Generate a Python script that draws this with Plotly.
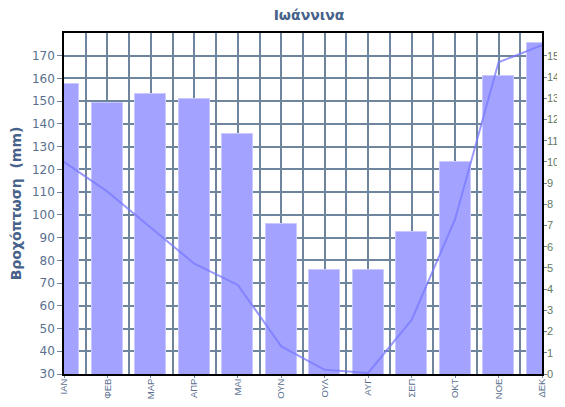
import plotly.graph_objects as go

months = ["ΙΑΝ", "ΦΕΒ", "ΜΑΡ", "ΑΠΡ", "ΜΑΙ", "ΟΥΝ", "ΟΥΛ", "ΑΥΓ", "ΣΕΠ", "ΟΚΤ", "ΝΟΕ", "ΔΕΚ"]
rainfall_mm = [157.4, 149.1, 153.0, 151.0, 135.4, 95.9, 75.8, 75.8, 92.6, 123.1, 161.2, 175.5]
line_values = [10.0, 8.6, 6.9, 5.2, 4.2, 1.3, 0.2, 0.05, 2.55, 7.3, 14.7, 15.5]
left_ticks = list(range(30, 171, 10))
right_ticks = list(range(0, 16))

pos = list(range(len(months)))
half_pos = [i + 0.5 for i in range(len(months) - 1)]

GRID = "#6f849d"
LBL = "#5a6f8f"
TITLE = "#46618a"
SMALL = "Liberation Sans, Arial, sans-serif"

# the page body has an 8px margin and the graph div is clipped to the body box
W, H = 557, 391

fig = go.Figure()
fig.add_trace(go.Bar(
    x=pos, y=rainfall_mm, width=0.71,
    marker=dict(color="#a3a3ff", line=dict(color="#c9c9ff", width=1)),
    yaxis="y", showlegend=False,
))
fig.add_trace(go.Scatter(
    x=pos, y=line_values, mode="lines",
    line=dict(color="rgba(120,120,255,0.75)", width=2),
    yaxis="y2", showlegend=False,
))

fig.update_layout(
    width=W, height=H,
    margin=dict(l=56, r=23, t=25, b=25),
    paper_bgcolor="white", plot_bgcolor="white",
    font=dict(family="DejaVu Sans", size=12, color=LBL),
    title=dict(text="<b>Ιωάννινα</b>", x=301 / W, xanchor="center", y=(H - 2) / H, yanchor="top",
               font=dict(family="DejaVu Sans", size=14, color=TITLE)),
    xaxis=dict(
        range=[0, 11], tickmode="array", tickvals=pos, ticktext=months,
        tickangle=-90, tickfont=dict(family=SMALL, size=9.5, color=LBL),
        ticklabelstandoff=-3,
        showgrid=True, gridcolor=GRID, gridwidth=2,
        minor=dict(tickmode="array", tickvals=half_pos, showgrid=True, gridcolor=GRID, gridwidth=2, ticks=""),
        ticks="outside", ticklen=2, tickcolor=GRID,
        showline=True, linecolor="black", linewidth=1.5, mirror=True,
        zeroline=False, automargin=False,
    ),
    yaxis=dict(
        range=[30, 180], tickmode="array", tickvals=left_ticks,
        showgrid=True, gridcolor=GRID, gridwidth=2,
        ticks="outside", ticklen=5, tickcolor=GRID,
        tickfont=dict(size=12, color=LBL),
        showline=True, linecolor="black", linewidth=1.5,
        zeroline=False, automargin=False,
        title=dict(text="<b>Βροχόπτωση\u00a0\u00a0(mm)</b>", font=dict(size=14, color=TITLE), standoff=11),
    ),
    yaxis2=dict(
        range=[0, 16.08], overlaying="y", side="right", tickmode="array", tickvals=right_ticks,
        showgrid=False, ticks="outside", ticklen=3, tickcolor=GRID,
        tickfont=dict(family=SMALL, size=11, color="#5f7a62"),
        ticklabelstandoff=-2,
        showline=True, linecolor="black", linewidth=1.5,
        zeroline=False, automargin=False,
    ),
    bargap=0,
)

fig.write_html("out.html")
